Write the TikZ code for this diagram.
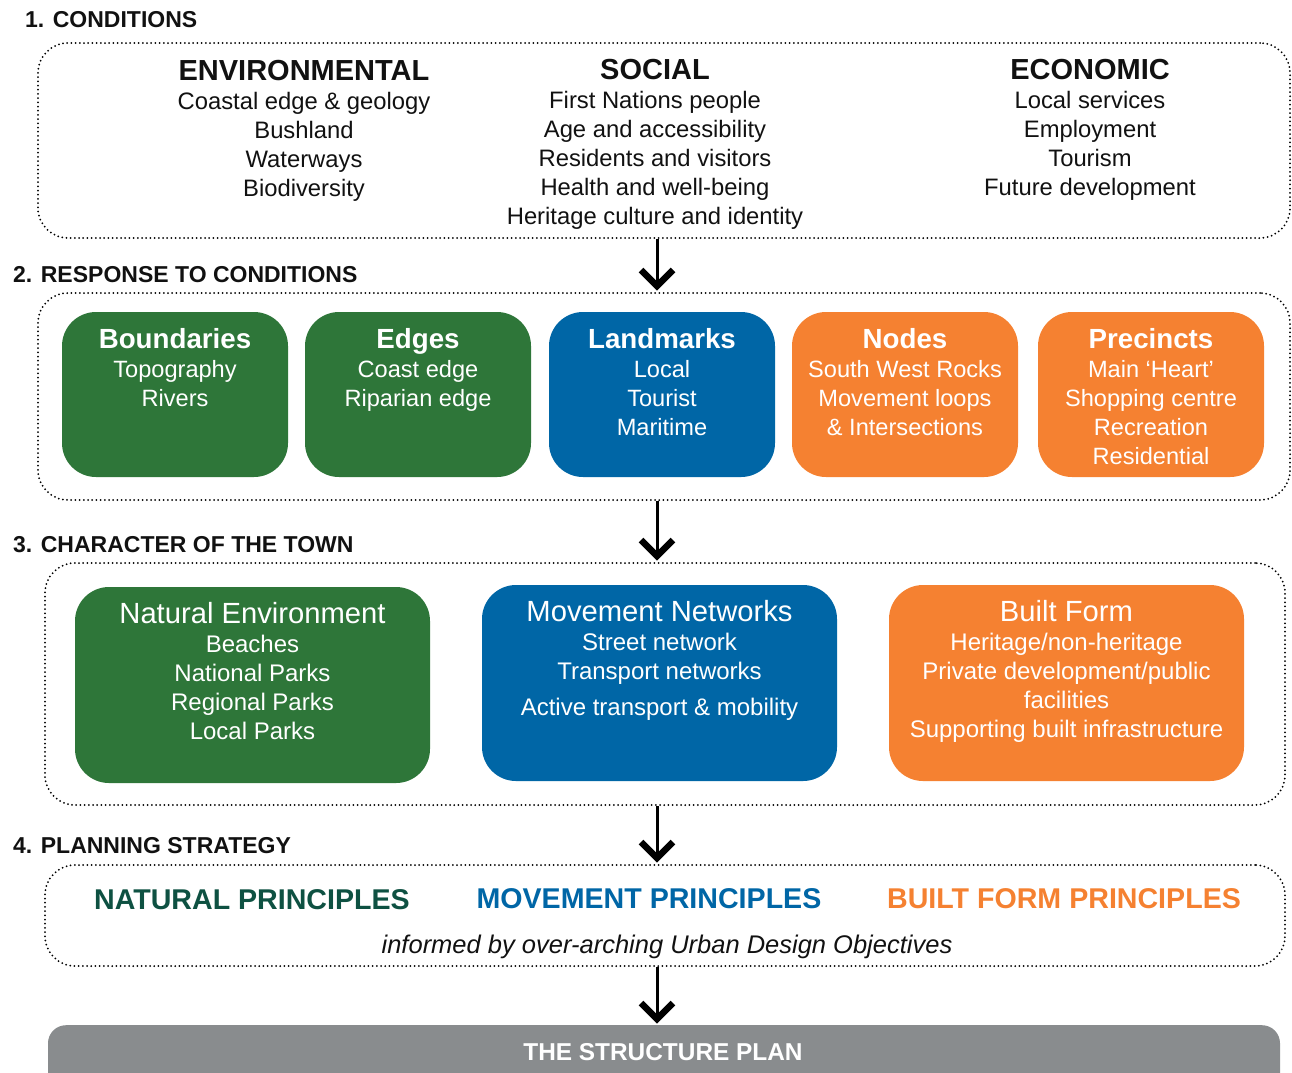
\documentclass[tikz,border=0pt]{standalone}
\usepackage{fontspec}
\setmainfont{Liberation Sans}
\usepackage{xcolor}
\usetikzlibrary{arrows.meta,positioning}
\definecolor{grn}{HTML}{2E7639}
\definecolor{blu}{HTML}{0066A6}
\definecolor{org}{HTML}{F58131}
\definecolor{dkgrn}{HTML}{0E5142}
\definecolor{gry}{HTML}{898C8E}
\definecolor{ink}{HTML}{111111}
\tikzset{
  dotbox/.style={draw=black,line width=2pt,dash pattern=on 0pt off 4.2pt,line cap=round,rounded corners=30pt,inner sep=0pt},
  cbox/.style={rounded corners=34pt,inner sep=0pt},
  shaft/.style={line width=3pt},
  chev/.style={line width=6.5pt,line join=miter},
  sect/.style={font=\bfseries\fontsize{23}{26}\selectfont,anchor=west,inner sep=0pt,text=ink},
  col/.style={align=center,anchor=north,inner sep=0pt,font=\fontsize{23.8}{29}\selectfont,text=ink},
  wcol/.style={col,font=\fontsize{23.6}{29}\selectfont,text=white},
  prin/.style={font=\bfseries\fontsize{28.6}{30}\selectfont,inner sep=0pt}
}
\newcommand{\colhead}[1]{{\bfseries\fontsize{29}{29}\selectfont #1}}
\newcommand{\boxhead}[1]{{\bfseries\fontsize{27.7}{29}\selectfont #1}}
\newcommand{\charhead}[1]{{\fontsize{29.2}{29}\selectfont #1}}
\begin{document}
\begin{tikzpicture}[x=1pt,y=-1pt]
\useasboundingbox (0,0) rectangle (1292,1072);
% headings
\node[sect] (h1) at (25,20) {1. CONDITIONS};
\node[sect] (h2) at (13,275) {2. RESPONSE TO CONDITIONS};
\node[sect] (h3) at (13,545) {3. CHARACTER OF THE TOWN};
\node[sect] (h4) at (13,846) {4. PLANNING STRATEGY};
% dotted frames
\node[dotbox,minimum width=1252pt,minimum height=195pt] (cond) at (664,140.5) {};
\node[dotbox,minimum width=1252pt,minimum height=207pt] (resp) at (664,396.5) {};
\node[dotbox,minimum width=1240pt,minimum height=242pt] (char) at (665,684) {};
\node[dotbox,minimum width=1240pt,minimum height=101pt] (strat) at (665,915.5) {};
% 1. conditions
\node[col] (env) at (304,59.6) {\colhead{ENVIRONMENTAL}\\Coastal edge \& geology\\Bushland\\Waterways\\Biodiversity};
\node[col] (soc) at (655,58.6) {\colhead{SOCIAL}\\First Nations people\\Age and accessibility\\Residents and visitors\\Health and well-being\\Heritage culture and identity};
\node[col] (eco) at (1090,58.6) {\colhead{ECONOMIC}\\Local services\\Employment\\Tourism\\Future development};
% 2. response
\node[cbox,fill=grn,minimum width=226pt,minimum height=165pt] (bnd) at (175,394.5) {};
\node[cbox,fill=grn,minimum width=226pt,minimum height=165pt] (edg) at (418,394.5) {};
\node[cbox,fill=blu,minimum width=226pt,minimum height=165pt] (lmk) at (662,394.5) {};
\node[cbox,fill=org,minimum width=226pt,minimum height=165pt] (nds) at (905,394.5) {};
\node[cbox,fill=org,minimum width=226pt,minimum height=165pt] (pre) at (1151,394.5) {};
\node[wcol] (bndt) at ([yshift=-16pt]bnd.north) {\boxhead{Boundaries}\\Topography\\Rivers};
\node[wcol] (edgt) at ([yshift=-16pt]edg.north) {\boxhead{Edges}\\Coast edge\\Riparian edge};
\node[wcol] (lmkt) at ([yshift=-16pt]lmk.north) {\boxhead{Landmarks}\\Local\\Tourist\\Maritime};
\node[wcol] (ndst) at ([yshift=-16pt]nds.north) {\boxhead{Nodes}\\South West Rocks\\Movement loops\\\& Intersections};
\node[wcol] (pret) at ([yshift=-16pt]pre.north) {\boxhead{Precincts}\\Main ‘Heart’\\Shopping centre\\Recreation\\Residential};
% 3. character
\node[cbox,fill=grn,minimum width=355pt,minimum height=196pt] (nat) at (252.5,685) {};
\node[cbox,fill=blu,minimum width=355pt,minimum height=196pt] (mov) at (659.5,683) {};
\node[cbox,fill=org,minimum width=355pt,minimum height=196pt] (blt) at (1066.5,683) {};
\node[wcol,font=\fontsize{24}{29}\selectfont] (natt) at ([yshift=-15.6pt]nat.north) {\charhead{Natural Environment}\\Beaches\\National Parks\\Regional Parks\\Local Parks};
\node[wcol,font=\fontsize{24}{29}\selectfont] (movt) at ([yshift=-15.6pt]mov.north) {\charhead{Movement Networks}\\Street network\\Transport networks\\[7pt]Active transport \& mobility};
\node[wcol,font=\fontsize{24}{29}\selectfont] (bltt) at ([yshift=-15.6pt]blt.north) {\charhead{Built Form}\\Heritage/non-heritage\\Private development/public\\facilities\\Supporting built infrastructure};
% 4. strategy
\node[prin,text=dkgrn] (pnat) at (252,900) {NATURAL PRINCIPLES};
\node[prin,text=blu] (pmov) at (649,899) {MOVEMENT PRINCIPLES};
\node[prin,text=org] (pblt) at (1064,899) {BUILT FORM PRINCIPLES};
\node[font=\itshape\fontsize{25.5}{28}\selectfont,text=ink,inner sep=0pt,anchor=base] (obj) at (667,953) {informed by over-arching Urban Design Objectives};
% structure plan
\node[fill=gry,rounded corners=18pt,minimum width=1232pt,minimum height=90pt,anchor=north,inner sep=0pt] (plan) at (664,1025) {};
\node[font=\bfseries\fontsize{24.4}{26}\selectfont,text=white,inner sep=0pt] (plant) at (663,1052) {THE STRUCTURE PLAN};
% arrows
\coordinate (t1) at ([xshift=-7pt,yshift=6pt]resp.north);
\coordinate (t2) at ([xshift=-8pt,yshift=6pt]char.north);
\coordinate (t3) at ([xshift=-8pt,yshift=6pt]strat.north);
\coordinate (t4) at ([xshift=-7pt,yshift=6pt]plan.north);
\draw[shaft] ([xshift=-7pt]cond.south) -- (t1);
\draw[shaft] ([xshift=-7pt]resp.south) -- (t2);
\draw[shaft] ([xshift=-8pt]char.south) -- (t3);
\draw[shaft] ([xshift=-8pt]strat.south) -- (t4);
\foreach \t in {t1,t2,t3,t4}
  \draw[chev] ([shift={(-16,-16)}]\t) -- (\t) -- ([shift={(16,-16)}]\t);
\end{tikzpicture}
\end{document}
